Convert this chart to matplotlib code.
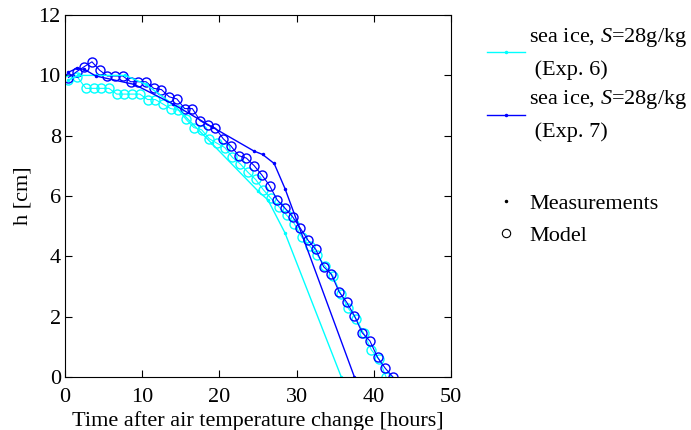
#!/usr/bin/env python3
import matplotlib
matplotlib.use("agg")
import matplotlib.pyplot as plt
from matplotlib.lines import Line2D

plt.rcParams["font.family"] = ["Liberation Serif", "DejaVu Serif"]
plt.rcParams["mathtext.fontset"] = "custom"
plt.rcParams["mathtext.it"] = "Liberation Serif:italic"
plt.rcParams["mathtext.rm"] = "Liberation Serif"

CYAN = "#00ffff"
BLUE = "#0000ff"

# measurements, Exp. 6 (cyan) and Exp. 7 (blue)
t_meas6 = [0.4, 1.7, 4.0, 7.8, 10.5, 14.2, 19.0, 25.0, 26.3, 28.5, 35.8]
h_meas6 = [9.84, 10.0, 10.0, 10.0, 9.7, 9.0, 7.75, 6.17, 5.87, 4.78, 0.0]

t_meas7 = [0.4, 1.5, 2.5, 4.0, 9.0, 14.0, 19.0, 24.5, 25.6, 27.1, 28.5, 37.5]
h_meas7 = [10.1, 10.23, 10.2, 9.98, 9.7, 9.05, 8.3, 7.49, 7.38, 7.08, 6.25, 0.0]

# model output
t_mod6 = [0.4, 1.6, 2.7, 3.7, 4.7, 5.7, 6.7, 7.7, 8.7, 9.7, 10.7, 11.7, 12.7,
          13.7, 14.7, 15.7, 16.7, 17.7, 18.7, 19.7, 20.7, 21.7, 22.7, 23.7,
          24.7, 25.7, 26.7, 27.7, 28.7, 29.7, 30.7, 31.7, 32.7, 33.7, 34.7,
          35.7, 36.7, 37.7, 38.7, 39.7, 40.7, 41.6]
h_mod6 = [9.84, 9.95, 9.57, 9.57, 9.57, 9.57, 9.38, 9.38, 9.38, 9.38, 9.2,
          9.2, 9.05, 8.9, 8.85, 8.54, 8.27, 8.2, 7.9, 7.75, 7.61, 7.28, 7.07,
          6.79, 6.55, 6.21, 5.92, 5.65, 5.37, 5.09, 4.63, 4.35, 4.04, 3.68,
          3.36, 2.77, 2.28, 1.94, 1.45, 0.9, 0.59, 0.0]

t_mod7 = [0.45, 1.5, 2.5, 3.5, 4.5, 5.5, 6.5, 7.5, 8.5, 9.5, 10.5, 11.5, 12.5,
          13.5, 14.5, 15.5, 16.5, 17.5, 18.5, 19.5, 20.5, 21.5, 22.5, 23.5,
          24.5, 25.5, 26.5, 27.5, 28.5, 29.5, 30.5, 31.5, 32.5, 33.5, 34.5,
          35.5, 36.5, 37.5, 38.5, 39.5, 40.5, 41.5, 42.5]
h_mod7 = [9.93, 10.12, 10.29, 10.45, 10.17, 9.98, 9.98, 9.98, 9.79, 9.79,
          9.79, 9.57, 9.53, 9.29, 9.22, 8.9, 8.9, 8.5, 8.35, 8.25, 7.9, 7.66,
          7.34, 7.26, 7.01, 6.7, 6.35, 5.87, 5.6, 5.31, 4.93, 4.53, 4.23, 3.66,
          3.41, 2.83, 2.48, 2.03, 1.47, 1.2, 0.65, 0.29, 0.0]

labels = ["sea ice, $S$=28g/kg\n (Exp. 6)", "sea ice, $S$=28g/kg\n (Exp. 7)"]

fig = plt.figure(figsize=(6.91, 4.30), dpi=100)
ax = fig.add_axes([0.094, 0.123, 0.5586, 0.842])

ax.plot(t_mod6, h_mod6, "-o", color=CYAN, lw=0.8, ms=6.5, mfc="none", mew=1.0)
ax.plot(t_mod7, h_mod7, "-o", color=BLUE, lw=0.8, ms=6.5, mfc="none", mew=1.0)
ax.plot(t_meas6, h_meas6, "-", color=CYAN, lw=1.0, marker=".", ms=3)
ax.plot(t_meas7, h_meas7, "-", color=BLUE, lw=1.0, marker=".", ms=3)

ax.set_xlim(0, 50)
ax.set_ylim(0, 12)
ax.set_xticks(range(0, 51, 10))
ax.set_yticks(range(0, 13, 2))
ax.tick_params(direction="in", top=True, right=True, labelsize=16, length=5)
ax.tick_params(axis="x", pad=8)
ax.tick_params(axis="y", pad=3)
ax.set_xlabel("Time after air temperature change [hours]", fontsize=16,
              labelpad=3)
ax.set_ylabel("h [cm]", fontsize=16, labelpad=4)

h1 = [Line2D([], [], color=CYAN, lw=1.0, marker=".", ms=3),
      Line2D([], [], color=BLUE, lw=1.0, marker=".", ms=3)]
leg1 = ax.legend(h1, labels, loc="upper left", bbox_to_anchor=(1.07, 0.995),
                 frameon=False, fontsize=16, handlelength=1.7,
                 handletextpad=0.2, labelspacing=0.4, borderaxespad=0)
for t in leg1.get_texts():
    t.set_linespacing(1.75)
ax.add_artist(leg1)

h2 = [Line2D([], [], color="k", ls="none", marker=".", ms=3),
      Line2D([], [], color="k", ls="none", marker="o", ms=6, mfc="none",
             mew=0.8)]
ax.legend(h2, ["Measurements", "Model"], loc="upper left",
          bbox_to_anchor=(1.07, 0.532), frameon=False, fontsize=16,
          handlelength=1.7, handletextpad=0.2, labelspacing=0.5,
          borderaxespad=0)

fig.savefig("out.png", dpi=100)
